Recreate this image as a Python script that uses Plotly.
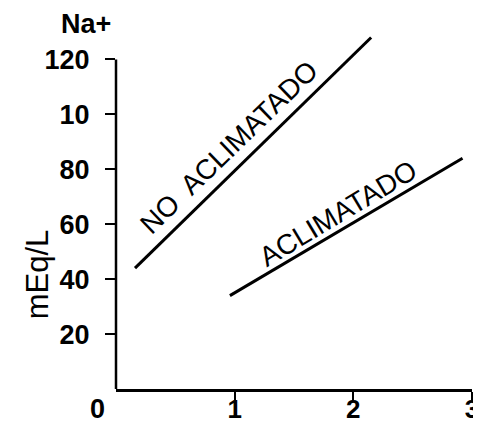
import plotly.graph_objects as go

# Data
no_acl_x = [0.16, 2.15]
no_acl_y = [44, 128]
acl_x = [0.96, 2.92]
acl_y = [34, 84]

y_tickvals = [20, 40, 60, 80, 100, 120]
y_ticktext = ["20", "40", "60", "80", "10", "120"]
x_tickvals = [1, 2, 3]
x_ticktext = ["1", "2", "3"]
y_axis_top = 120

label_no = "NO  ACLIMATADO"
label_acl = "ACLIMATADO"
y_title = "mEq/L"
header = "Na+"
origin = "0"

FONT = "Liberation Sans, Arial, Helvetica, sans-serif"

fig = go.Figure()
fig.add_trace(go.Scatter(x=no_acl_x, y=no_acl_y, mode="lines",
                         line=dict(color="black", width=3), showlegend=False))
fig.add_trace(go.Scatter(x=acl_x, y=acl_y, mode="lines",
                         line=dict(color="black", width=3), showlegend=False))

# y axis line drawn only up to the top tick
fig.add_shape(type="line", xref="paper", yref="y", x0=0, x1=0, y0=0, y1=y_axis_top,
              line=dict(color="black", width=2.5))

fig.add_annotation(x=0.95, y=88, xref="x", yref="y", text=label_no,
                   textangle=-44, showarrow=False,
                   font=dict(family=FONT, size=28, color="black"))
fig.add_annotation(x=1.87, y=64, xref="x", yref="y", text=label_acl,
                   textangle=-31, showarrow=False,
                   font=dict(family=FONT, size=28, color="black"))

# "Na+" header, y title and origin label
fig.add_annotation(x=0, y=y_axis_top, xref="paper", yref="y", text=header,
                   xanchor="center", yanchor="bottom", xshift=-30, yshift=18,
                   showarrow=False,
                   font=dict(family=FONT, size=27, color="black", weight="bold"))
fig.add_annotation(x=0, y=0, xref="paper", yref="y", text=origin,
                   xanchor="center", yanchor="top", xshift=-19, yshift=-3,
                   showarrow=False,
                   font=dict(family=FONT, size=27, color="black", weight="bold"))
fig.add_annotation(x=0, y=60, xref="paper", yref="y", text=y_title,
                   textangle=-90, xanchor="center", yanchor="middle",
                   xshift=-79, yshift=-50, showarrow=False,
                   font=dict(family=FONT, size=31, color="black"))

# page body adds an 8px offset; size the figure to the visible area
fig.update_layout(
    width=473, height=420,
    margin=dict(l=108, r=9, t=24, b=39, autoexpand=False),
    paper_bgcolor="white", plot_bgcolor="white",
    font=dict(family=FONT, color="black"),
    xaxis=dict(range=[0, 3], showgrid=False, zeroline=False, automargin=False,
               showline=True, linecolor="black", linewidth=2.5,
               ticks="outside", ticklen=9, tickwidth=2, tickcolor="black",
               tickvals=x_tickvals, ticktext=x_ticktext,
               tickfont=dict(family=FONT, size=26, weight="bold"),
               ticklabelstandoff=-14),
    yaxis=dict(range=[0, 130], showgrid=False, zeroline=False, automargin=False,
               showline=False,
               ticks="outside", ticklen=10, tickwidth=2, tickcolor="black",
               tickvals=y_tickvals, ticktext=y_ticktext,
               tickfont=dict(family=FONT, size=27, weight="bold"),
               ticklabelstandoff=10),
)

fig.write_html("out.html")
